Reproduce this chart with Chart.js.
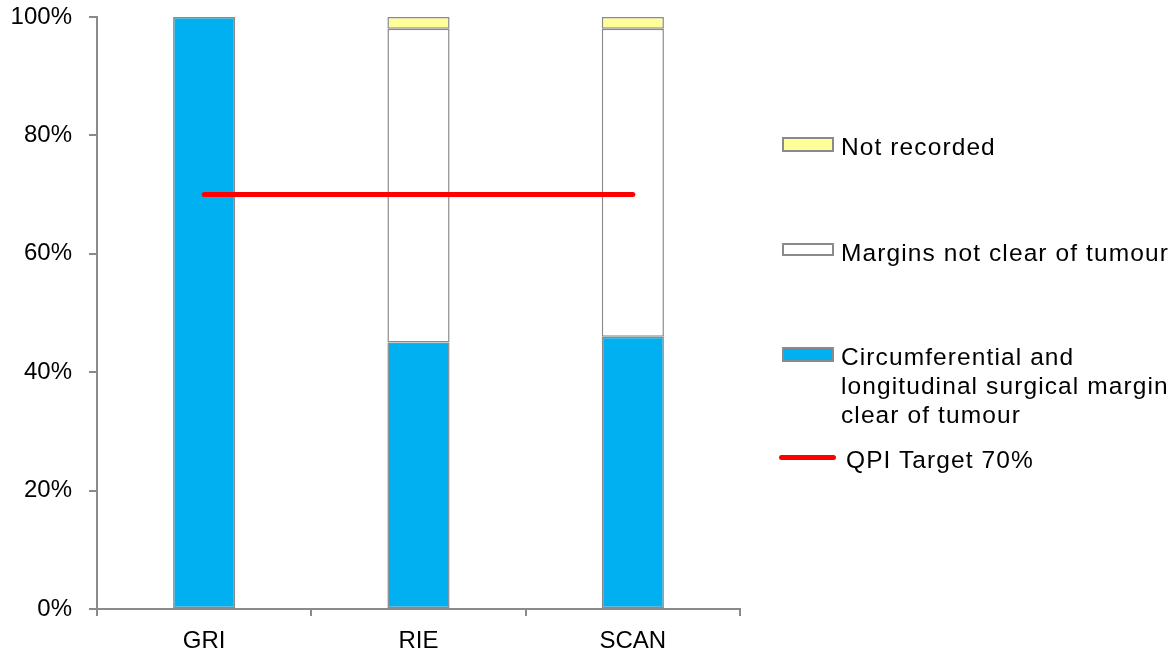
<!DOCTYPE html>
<html>
<head>
<meta charset="utf-8">
<script src="https://cdn.jsdelivr.net/npm/chart.js@4/dist/chart.umd.min.js"></script>
<style>
  html, body { margin: 0; padding: 0; background: #fff; }
  #wrap { position: relative; width: 1175px; height: 658px; }
  #c { position: absolute; left: 0; top: 0; }
  .lg { position: absolute; font-family: "Liberation Sans", Arial, sans-serif; font-size: 24.5px; letter-spacing: 1.1px; color: #000; line-height: 29px; }
  .sw { position: absolute; box-sizing: border-box; }
</style>
</head>
<body>
<div id="wrap">
  <canvas id="c" width="1175" height="658"></canvas>
  <div id="legend"></div>
</div>
<script>
const categories = ["GRI", "RIE", "SCAN"];
const clearMargin = [100, 45, 46];
const notClear = [0, 53, 52];
const notRecorded = [0, 2, 2];
const qpiTarget = [70, 70, 70];
const yTicks = [0, 20, 40, 60, 80, 100];
const seriesNames = ["Circumferential and longitudinal surgical margin clear of tumour", "Margins not clear of tumour", "Not recorded", "QPI Target  70%"];

const BLUE = "#00b0f0", WHITE = "#ffffff", YELLOW = "#ffff99", GREY = "#8a8a8a", RED = "#ff0000";
const FONT = "'Liberation Sans', Arial, sans-serif";

const barCommon = { borderColor: GREY, borderWidth: 1.5, borderSkipped: false, barPercentage: 0.29, categoryPercentage: 1, order: 1, stack: "s" };

new Chart(document.getElementById("c"), {
  type: "bar",
  data: {
    labels: categories,
    datasets: [
      Object.assign({ label: seriesNames[0], data: clearMargin, backgroundColor: BLUE }, barCommon),
      Object.assign({ label: seriesNames[1], data: notClear, backgroundColor: WHITE }, barCommon),
      Object.assign({ label: seriesNames[2], data: notRecorded, backgroundColor: YELLOW }, barCommon),
      { type: "line", label: seriesNames[3], data: qpiTarget, borderColor: RED, borderWidth: 5, pointRadius: 0, order: 0, stack: "t", borderCapStyle: "round" }
    ]
  },
  options: {
    responsive: false,
    animation: false,
    layout: { padding: { top: 17, right: 435, bottom: 0, left: 0 } },
    plugins: { legend: { display: false }, tooltip: { enabled: false } },
    scales: {
      x: {
        stacked: true,
        grid: { display: true, drawOnChartArea: false, drawTicks: true, tickLength: 7, color: GREY, lineWidth: 2 },
        border: { color: GREY, width: 2 },
        ticks: { color: "#000", font: { family: FONT, size: 24 }, padding: 11 },
        afterFit: s => { s.height = 49; s.paddingLeft = 0; s.paddingRight = 0; }
      },
      y: {
        stacked: true,
        min: 0, max: 100,
        afterBuildTicks: s => { s.ticks = yTicks.map(v => ({ value: v })); },
        grid: { display: true, drawOnChartArea: false, drawTicks: true, tickLength: 8, color: GREY, lineWidth: 2 },
        border: { color: GREY, width: 2 },
        ticks: { color: "#000", font: { family: FONT, size: 24 }, padding: 17, callback: v => v + "%" },
        afterFit: s => { s.width = 97; s.paddingTop = 0; s.paddingBottom = 0; }
      }
    }
  }
});

// Legend (HTML), built from series names
const legend = document.getElementById("legend");
const items = [
  { name: seriesNames[2], kind: "box", fill: YELLOW, boxTop: 137, textTop: 132, boxH: 15 },
  { name: seriesNames[1], kind: "box", fill: WHITE, boxTop: 243, textTop: 238, boxH: 13 },
  { name: seriesNames[0], kind: "box", fill: BLUE, boxTop: 347, textTop: 342, boxH: 15, width: 334 },
  { name: seriesNames[3], kind: "line", fill: RED, boxTop: 455, textTop: 445 }
];
items.forEach(it => {
  const sw = document.createElement("div");
  sw.className = "sw";
  if (it.kind === "box") {
    Object.assign(sw.style, { left: "782px", top: it.boxTop + "px", width: "52px", height: it.boxH + "px", background: it.fill, border: "2px solid " + GREY });
  } else {
    Object.assign(sw.style, { left: "779px", top: it.boxTop + "px", width: "57px", height: "5px", background: it.fill, borderRadius: "2.5px" });
  }
  legend.appendChild(sw);
  const t = document.createElement("div");
  t.className = "lg";
  t.textContent = it.name;
  Object.assign(t.style, { left: (it.kind === "line" ? 846 : 841) + "px", top: it.textTop + "px" });
  if (it.width) t.style.width = it.width + "px";
  legend.appendChild(t);
});
</script>
</body>
</html>
